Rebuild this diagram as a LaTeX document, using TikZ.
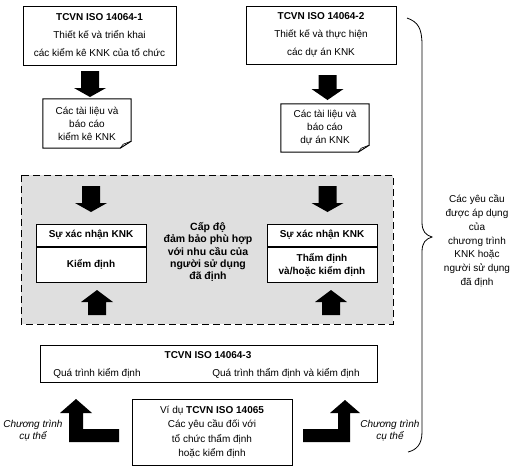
\documentclass[tikz,border=0pt]{standalone}
\usepackage{fontspec}
\setmainfont{Liberation Sans}
\usepackage{tikz}
\usetikzlibrary{calc}
\tikzset{box/.style={draw, line width=1pt, fill=white, inner sep=0pt, align=center},
  doctext/.style={inner sep=0pt, align=center, font=\fontsize{10}{13}\selectfont},
  prog/.style={align=center, font=\itshape\fontsize{10}{12}\selectfont}}
% x, top, neck, tip
\newcommand{\fatarrow}[4]{\fill (#1-9,#2) -- (#1+9,#2) -- (#1+9,#3) -- (#1+16,#3)
  -- (#1,#4) -- (#1-16,#3) -- (#1-9,#3) -- cycle;}
\newcommand{\docshape}[1]{\draw[line width=1pt] (#1.north west) -- (#1.north east)
  -- ($(#1.south east)+(0,-7)$) -- ($(#1.south east)+(-11,0)$) -- (#1.south west) -- cycle;
  \draw[line width=0.6pt] ($(#1.south east)+(0,-7)$) -- ($(#1.south east)+(-8,-4)$)
  -- ($(#1.south east)+(-11,0)$);}

\begin{document}
\begin{tikzpicture}[x=1pt, y=-1pt, font=\fontsize{10}{12}\selectfont]
  \useasboundingbox (0,0) rectangle (512,469);

  \node[box, minimum width=153, minimum height=59, font=\fontsize{10}{18}\selectfont]
    (iso1) at (99.5,35.5) {\textbf{TCVN ISO 14064-1}\\ Thiết kế và triển khai\\ các kiểm kê KNK của tổ chức};
  \node[box, minimum width=150, minimum height=58, font=\fontsize{10}{18}\selectfont]
    (iso2) at (321,35) {\textbf{TCVN ISO 14064-2}\\ Thiết kế và thực hiện\\ các dự án KNK};

  \fatarrow{90}{71}{88}{97}
  \fatarrow{327.5}{75}{89}{100}

  \node[doctext, minimum width=88, minimum height=49] (doc1) at (87,123.5)
    {Các tài liệu và\\ báo cáo\\ kiểm kê KNK};
  \docshape{doc1}
  \node[doctext, minimum width=88, minimum height=48] (doc2) at (325,128)
    {Các tài liệu và\\ báo cáo\\ dự án KNK};
  \docshape{doc2}

  % vung xac nhan
  \draw[line width=1pt, dash pattern=on 7pt off 4pt, fill=gray!25] (21,175) rectangle (393,324);
  \fatarrow{91}{186}{203}{212}
  \fatarrow{327.5}{186}{203}{212}
  \fatarrow{97}{315}{302}{290}
  \fatarrow{331}{315}{302}{290}

  \node[box, minimum width=110, minimum height=22, font=\bfseries] (conf1) at (91,235) {Sự xác nhận KNK};
  \node[box, minimum width=110, minimum height=35, font=\bfseries, anchor=north] (ver1) at (conf1.south) {Kiểm định};
  \node[box, minimum width=110, minimum height=22, font=\bfseries] (conf2) at (322,235) {Sự xác nhận KNK};
  \node[box, minimum width=110, minimum height=35, font=\bfseries\fontsize{10}{13}\selectfont, anchor=north]
    (ver2) at (conf2.south) {Thẩm định\\ và/hoặc kiểm định};
  \node[align=center, font=\bfseries\fontsize{10.5}{12.3}\selectfont] (level) at (208,252)
    {Cấp độ\\ đảm bảo phù hợp\\ với nhu cầu của\\ người sử dụng\\ đã định};

  \node[box, minimum width=337, minimum height=37] (iso3) at (208.5,363.5) {};
  \node[font=\bfseries] (iso3t) at (208,355) {TCVN ISO 14064-3};
  \node (ver3) at (97,373) {Quá trình kiểm định};
  \node (valver3) at (286,373) {Quá trình thẩm định và kiểm định};

  \node[box, minimum width=160, minimum height=66, font=\fontsize{10}{14.5}\selectfont] (iso5) at (212,432)
    {Ví dụ \textbf{TCVN ISO 14065}\\ Các yêu cầu đối với\\ tổ chức thẩm định\\ hoặc kiểm định};

  \fill (76,399) -- (92,413) -- (83,413) -- (83,429) -- (119,429) -- (119,442)
    -- (69,442) -- (69,413) -- (60,413) -- cycle;
  \fill (345,400) -- (360,413) -- (350,413) -- (350,442) -- (303,442) -- (303,429)
    -- (338,429) -- (338,413) -- (330,413) -- cycle;
  \node[prog] (spec1) at (33,431) {Chương trình\\ cụ thể};
  \node[prog] (spec2) at (390,431) {Chương trình\\ cụ thể};

  % ngoac
  \draw[line width=0.8pt] (407,18) .. controls (418,22) and (422,28) .. (422,45) -- (422,222)
    .. controls (422,232) and (426,235) .. (432,237) .. controls (426,239) and (422,242) .. (422,252)
    -- (422,432) .. controls (422,445) and (416,450) .. (408,452);
  \node[align=center, font=\fontsize{10}{13.8}\selectfont] (req) at (477,241)
    {Các yêu cầu\\ được áp dụng\\ của\\ chương trình\\ KNK hoặc\\ người sử dụng\\ đã định};
\end{tikzpicture}
\end{document}
